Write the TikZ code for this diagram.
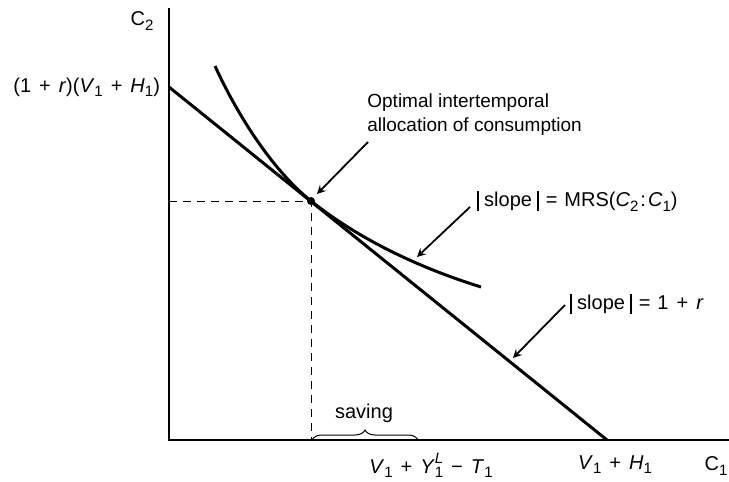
\documentclass[tikz,border=0pt]{standalone}
\usepackage{fontspec}
\setmainfont{Liberation Sans}
\usepackage{tikz}
\usetikzlibrary{arrows,positioning,calc,decorations.pathreplacing}

\newcommand{\sbs}[1]{\raisebox{-0.4ex}{\fontsize{7.5}{8}\selectfont #1}}
\newcommand{\iv}[2]{\textit{#1}\sbs{#2}}
\newcommand{\pl}{\hspace{0.4em}+\hspace{0.4em}}
\newcommand{\vb}{\rule[-0.2em]{0.09em}{1.0em}}

\begin{document}
\begin{tikzpicture}[
    x=0.5pt, y=-0.5pt,
    every node/.style={font=\fontsize{10}{12}\selectfont},
    axis/.style={line width=0.8pt},
    curve/.style={line width=1.5pt},
    guide/.style={dashed, line width=0.5pt, dash pattern=on 4pt off 3pt},
    arrow/.style={->, >=stealth, line width=0.9pt}
]
\useasboundingbox (0,0) rectangle (729,482);

% Axes
\coordinate (O) at (169,440);
\coordinate (ytop) at (169,8);
\coordinate (xend) at (729,440);
\draw[axis] (ytop) -- (O) -- (xend);
\node (c2) at (142,21) {C\sbs{2}};
\node (c1) at (716,466) {C\sbs{1}};

% Budget line and indifference curve
\coordinate (yint) at (169,87);
\coordinate (xint) at (607,440);
\coordinate (opt) at (311,201);
\draw[curve] (yint) -- (xint);
\draw[curve] (215,66) .. controls (236,112) and (271,169) .. (opt)
    .. controls (360,240) and (420,268) .. (481,287);
\fill (opt) circle (4);

% Dashed guides
\coordinate (optx) at (169,201);
\coordinate (opty) at (311,440);
\draw[guide] (optx) -- (opt) -- (opty);

% Saving brace
\coordinate (bl) at (312,440);
\coordinate (br) at (418,440);
\draw[line width=0.5pt, decorate, decoration={brace, amplitude=5pt}] (bl) -- (br);
\node (saving) at (364,413) {saving};

% Axis labels
\node[anchor=east] (ylab) at (167,87) {(1\pl\textit{r})(\iv{V}{1}\pl\iv{H}{1})};
\node (xlab1) at (431,465) {\iv{V}{1}\pl\textit{Y}\rlap{\raisebox{0.95ex}{\fontsize{7.5}{8}\selectfont\textit{L}}}\sbs{1}\hspace{0.4em}−\hspace{0.4em}\iv{T}{1}};
\node (xlab2) at (615,465) {\iv{V}{1}\pl\iv{H}{1}};

% Annotations
\node[anchor=north west, align=left, inner sep=0pt, font=\fontsize{9.5}{12}\selectfont] (optlab) at (367,93)
    {Optimal intertemporal\\allocation of consumption};
\node[anchor=west, inner sep=0pt] (mrslab) at (477,201)
    {\vb\hspace{0.25em}slope\hspace{0.25em}\vb\hspace{0.35em}=\hspace{0.35em}MRS(\iv{C}{2}\hspace{0.1em}:\hspace{0.1em}\iv{C}{1})};
\node[anchor=west, inner sep=0pt] (rlab) at (570,304)
    {\vb\hspace{0.25em}slope\hspace{0.25em}\vb\hspace{0.35em}=\hspace{0.35em}1\pl\textit{r}};

\coordinate (a1) at (368,142);
\coordinate (a2) at (470,207);
\coordinate (t2) at (417,257);
\coordinate (a3) at (565,305);
\coordinate (t3) at (513,358);
\draw[arrow] (a1) -- ($(opt)+(6,-7)$);
\draw[arrow] (a2) -- (t2);
\draw[arrow] (a3) -- (t3);

\end{tikzpicture}
\end{document}
